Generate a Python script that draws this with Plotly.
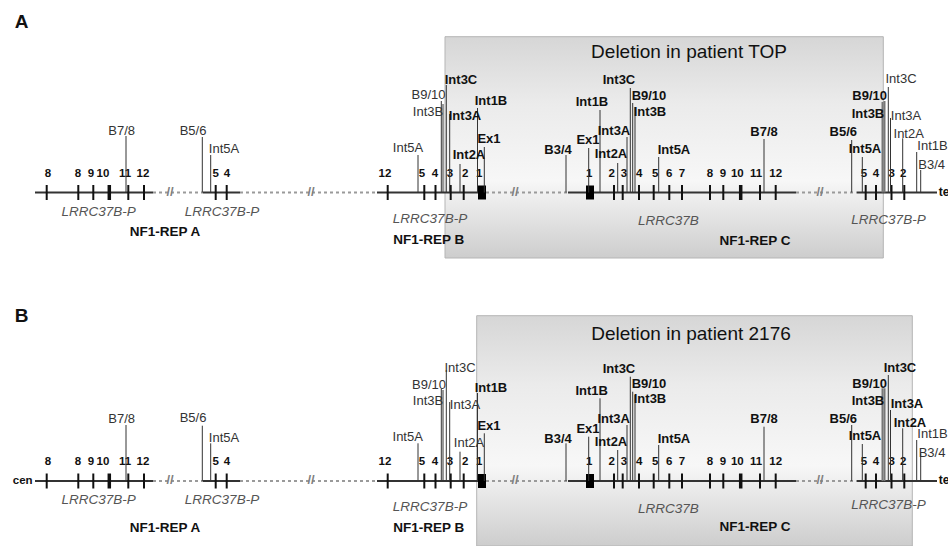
import plotly.graph_objects as go

# ---------------- data ----------------
panel_letters = ["A", "B"]
deletion_titles = ["Deletion in patient TOP", "Deletion in patient 2176"]
baseline_y = [192.5, 481.0]                      # genome line level of each panel
deletion_box = [(445.0, 883.3, 36.7, 258.0),     # x0, x1, y0, y1
                (476.7, 912.3, 315.7, 546.0)]
title_xy = [(689.0, 53.0), (691.0, 335.0)]
letter_xy = [(21.7, 23.0), (21.7, 317.0)]

# exons (genome coordinate along the line)
exon_pos = [46.7, 78.3, 93.3, 109.3, 128.3, 144.0, 215.7, 226.7, 387.7, 424.3, 435.5,
            450.7, 463.7, 614.0, 622.7, 639.0, 653.7, 669.3, 682.0, 710.0, 723.3,
            740.7, 760.0, 775.7, 865.7, 876.0, 891.5, 904.3]
exon_thick = [109.3, 740.7]
exon1_pos = [482.0, 590.0]
exon_lbl = ["8", "8", "9", "10", "11", "12", "5", "4", "12", "5", "4", "3", "2", "1",
            "1", "2", "3", "4", "5", "6", "7", "8", "9", "10", "11", "12", "5", "4", "3", "2"]
exon_lbl_pos = [48, 78, 91, 103, 125, 143, 215.7, 227, 385, 422, 435, 450, 465.3, 479.3,
                589.3, 611.7, 624, 639.3, 655.3, 669.3, 682, 710, 723, 737.3, 756, 775.7,
                864, 876, 891.7, 903.3]

# line segments
solid_segments = [(35, 153), (203, 240), (377, 486), (568, 796), (857, 937)]
dotted_segments = [(153, 203), (240, 377), (486, 568), (796, 857)]
break_marks = [170, 311, 515, 820]

# gene / repeat labels
gene_names = ["LRRC37B-P", "LRRC37B-P", "LRRC37B-P", "LRRC37B", "LRRC37B-P"]
gene_pos = [98.7, 222.0, 430.0, 668.3, 888.5]
gene_y = [[213, 213, 220, 221.7, 220.7], [501, 501, 507.7, 509.3, 506]]
rep_names = ["NF1-REP A", "NF1-REP B", "NF1-REP C"]
rep_pos = [165.0, 428.7, 755.0]
rep_y = [[232.3, 241, 242], [528.3, 528.3, 527.3]]

# breakpoints
bp_name = ["B7/8", "B5/6", "Int5A", "Int5A", "B9/10", "Int3B", "Int3C", "Int3A", "Int2A",
           "Int1B", "Ex1", "B3/4", "Ex1", "Int1B", "Int2A", "Int3A", "Int3C", "B9/10",
           "Int3B", "Int5A", "B7/8", "B5/6", "Int5A", "Int3B", "B9/10", "Int3C", "Int3A",
           "Int2A", "Int1B", "B3/4"]
bp_pos = [126, 202.3, 210.7, 418, 441.3, 443, 446.3, 449.7, 460, 477.5, 484.3, 566, 588.7,
          600, 617.7, 627, 630.3, 632.7, 635, 658.7, 764, 851.7, 862.3, 882.5, 884.5, 888.3,
          890.5, 902.7, 916.7, 920.7]
bp_thick = [882.5, 884.5]
# stem heights above the line
bp_height = [
    [56.5, 55.5, 37.5, 37.5, 91.5, 88.5, 107.5, 78.5, 28.5, 84.5, 45.5, 37.5, 44.5, 82.5,
     29.5, 55.5, 104.5, 89.5, 85.5, 35.5, 53.5, 52.5, 35.5, 90.5, 91.5, 105.5, 74.5, 54.2,
     40.5, 22.5],
    [56, 55.3, 37.7, 37.7, 92.7, 91, 111, 79, 29.3, 88, 47.7, 37.7, 44.3, 82.7, 31, 56,
     104.3, 89.3, 86, 36, 54.3, 56, 37, 92.7, 92.7, 106, 71, 52.7, 41, 27.7]]
bp_lbl_pos = [
    [121.7, 193, 224, 408, 428.5, 428, 461, 465, 469, 491, 489, 558, 588, 592, 611, 614, 619,
     649, 650, 674, 764, 843.3, 865, 868, 869.7, 901, 906, 908.7, 932.5, 931.7],
    [121.7, 193, 224, 407.7, 429, 428, 460, 465, 469, 491, 489, 558, 588, 591.7, 611, 613.7,
     619, 649, 650, 674, 764, 843.3, 865, 868, 869.7, 900, 907, 910, 932.5, 932]]
bp_lbl_height = [
    [60.5, 60.5, 42.5, 43.5, 96.5, 79.5, 111.5, 75.5, 36.5, 91, 52.5, 41.5, 51.5, 89.5, 38,
     61, 111.5, 95.8, 80.2, 41.8, 60.2, 60.2, 42.5, 77.5, 95.8, 112.5, 75.8, 57.5, 45.8, 26.5],
    [61.7, 62, 42.7, 43.5, 95.3, 79.3, 112.7, 75.5, 37.7, 92.7, 54.3, 41.7, 51.7, 89.3, 38.3,
     61, 111.7, 96.7, 81, 41.7, 61, 61, 44.3, 79.3, 96.7, 112.7, 76, 57.7, 46, 27]]
bp_bold = [
    [0, 0, 0, 0, 0, 0, 1, 1, 1, 1, 1, 1, 1, 1, 1, 1, 1, 1, 1, 1, 1, 1, 1, 1, 1, 0, 0, 0, 0, 0],
    [0, 0, 0, 0, 0, 0, 0, 0, 0, 1, 1, 1, 1, 1, 1, 1, 1, 1, 1, 1, 1, 1, 1, 1, 1, 1, 1, 1, 0, 0]]

# ---------------- figure ----------------
FONT = "Arial, Liberation Sans, sans-serif"
fig = go.Figure()


def add_lines(xs, ys, color, width, dash="solid"):
    fig.add_trace(go.Scatter(x=xs, y=ys, mode="lines", hoverinfo="skip",
                             line=dict(color=color, width=width, dash=dash)))


def add_text(xs, ys, texts, size, color="#111", weight="normal", style="normal"):
    fig.add_trace(go.Scatter(x=xs, y=ys, text=texts, mode="text", hoverinfo="skip",
                             textposition="middle center",
                             textfont=dict(family=FONT, size=size, color=color,
                                           weight=weight, style=style)))


for p in range(2):
    base = baseline_y[p]
    x0, x1, y0, y1 = deletion_box[p]
    fig.add_trace(go.Scatter(
        x=[x0, x1, x1, x0, x0], y=[y0, y0, y1, y1, y0], mode="lines", fill="toself",
        hoverinfo="skip", line=dict(color="#b5b5b5", width=1),
        fillgradient=dict(type="vertical", start=y0, stop=y1,
                          colorscale=[[0, "#d6d6d6"], [0.3, "#ebebeb"],
                                      [0.65, "#f7f7f7"], [1, "#cdcdcd"]])))

    # genome line
    xs, ys = [], []
    for a, b in solid_segments:
        xs += [a, b, None]; ys += [base, base, None]
    add_lines(xs, ys, "#333333", 2)
    xs, ys = [], []
    for a, b in dotted_segments:
        xs += [a, b, None]; ys += [base, base, None]
    add_lines(xs, ys, "#9a9a9a", 2, "dot")
    add_text(break_marks, [base] * len(break_marks), ["//"] * len(break_marks), 13,
             color="#808080", weight="bold")

    # exons
    xs, ys = [], []
    for e in exon_pos:
        if e in exon_thick:
            continue
        xs += [e, e, None]; ys += [base - 7.5, base + 7.5, None]
    add_lines(xs, ys, "#111111", 2)
    xs, ys = [], []
    for e in exon_thick:
        xs += [e, e, None]; ys += [base - 7.5, base + 7.5, None]
    add_lines(xs, ys, "#111111", 3.5)
    xs, ys = [], []
    for e in exon1_pos:
        xs += [e, e, None]; ys += [base - 7, base + 7, None]
    add_lines(xs, ys, "#000000", 8)
    add_text(exon_lbl_pos, [base - 18.5] * len(exon_lbl_pos), exon_lbl, 11.5,
             weight="bold")

    # breakpoints
    xs, ys, xt, yt = [], [], [], []
    for bx, h in zip(bp_pos, bp_height[p]):
        if bx in bp_thick:
            xt += [bx, bx, None]; yt += [base - h, base, None]
        else:
            xs += [bx, bx, None]; ys += [base - h, base, None]
    add_lines(xs, ys, "#333333", 1)
    add_lines(xt, yt, "#777777", 2)
    for boldflag, wt, col in [(1, "bold", "#111"), (0, "normal", "#333")]:
        sel = [i for i in range(len(bp_name)) if bp_bold[p][i] == boldflag]
        add_text([bp_lbl_pos[p][i] for i in sel],
                 [base - bp_lbl_height[p][i] for i in sel],
                 [bp_name[i] for i in sel], 13, color=col, weight=wt)

    # gene and repeat labels
    add_text(gene_pos, gene_y[p], gene_names, 13.5, color="#555", style="italic")
    add_text(rep_pos, rep_y[p], rep_names, 13.5, weight="bold")

    # titles
    add_text([title_xy[p][0]], [title_xy[p][1]], [deletion_titles[p]], 19)
    add_text([letter_xy[p][0]], [letter_xy[p][1]], [panel_letters[p]], 19, weight="bold")
    add_text([944], [base], ["te"], 12, weight="bold")
    if p == 1:
        add_text([22.7], [base], ["cen"], 11.5, weight="bold")

fig.update_layout(
    width=948, height=546, margin=dict(l=0, r=0, t=0, b=0),
    paper_bgcolor="white", plot_bgcolor="white", showlegend=False,
    xaxis=dict(range=[0, 948], visible=False, fixedrange=True),
    yaxis=dict(range=[546, 0], visible=False, fixedrange=True),
)
fig.write_html("out.html", config={"displayModeBar": False},
               post_script="document.body.style.margin='0px';"
                           "document.body.style.overflow='hidden';")
